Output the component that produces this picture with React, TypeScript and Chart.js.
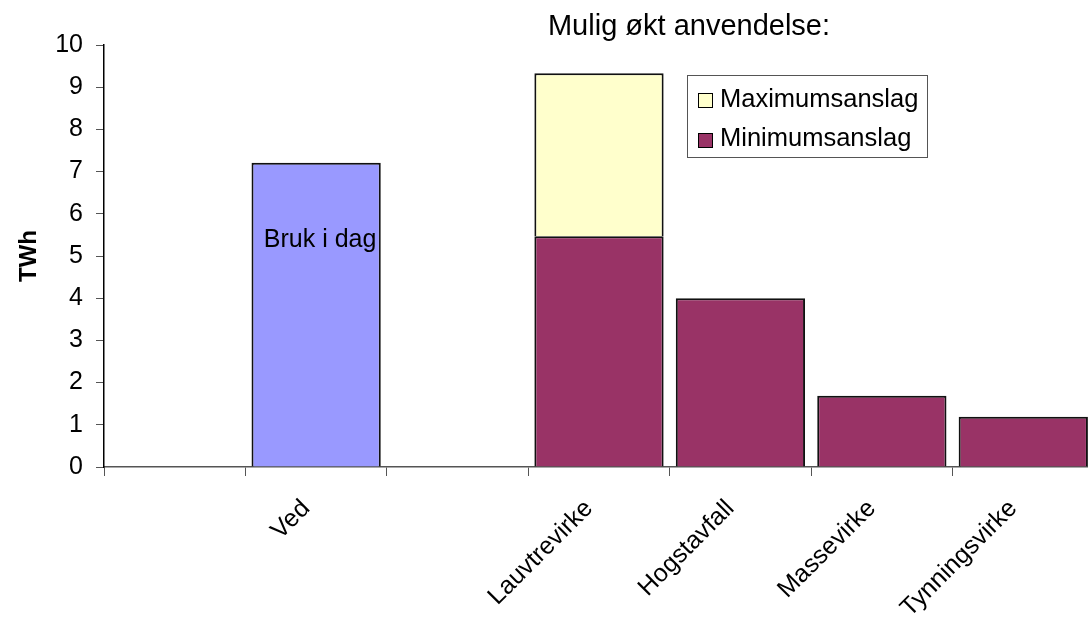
import { useEffect, useRef } from "react";
import { Chart, registerables } from "chart.js";

Chart.register(...registerables);

const FONT = 'Arial, "Liberation Sans", sans-serif';

const categories = ["", "Ved", "", "Lauvtrevirke", "Hogstavfall", "Massevirke", "Tynningsvirke"];
const brukIDag = [null, 7.21, null, null, null, null, null];
const minimumsanslag = [null, null, null, 5.47, 4.0, 1.69, 1.19];
const maksimumsTillegg = [null, null, null, 3.86, null, null, null];
const yMin = 0;
const yMax = 10;
const yStep = 1;

const chartTitle = "Mulig økt anvendelse:";
const barText = "Bruk i dag";
const yAxisTitle = "TWh";
const legendLabels = ["Maximumsanslag", "Minimumsanslag"];

const COLOR_VED = "#9999FF";
const COLOR_MIN = "#993366";
const COLOR_MAX = "#FFFFCC";

const overlayPlugin = {
  id: "overlay",
  afterDraw(chart: any) {
    const ctx = chart.ctx;
    ctx.save();
    // title
    ctx.fillStyle = "#000";
    ctx.font = `29px ${FONT}`;
    ctx.textAlign = "center";
    ctx.textBaseline = "alphabetic";
    ctx.fillText(chartTitle, 689, 35);

    // text inside Ved bar
    const vedBar = chart.getDatasetMeta(0).data[1];
    if (vedBar) {
      ctx.font = `25px ${FONT}`;
      ctx.textAlign = "center";
      ctx.fillText(barText, vedBar.x + 4, vedBar.y + 84);
    }

    // legend
    const bx = 687, by = 75, bw = 240, bh = 82;
    ctx.fillStyle = "#fff";
    ctx.fillRect(bx, by, bw, bh);
    ctx.strokeStyle = "#555";
    ctx.lineWidth = 1;
    ctx.strokeRect(bx + 0.5, by + 0.5, bw, bh);
    const items = [
      { label: legendLabels[0], color: chart.data.datasets[2].backgroundColor, cy: 100, base: 107 },
      { label: legendLabels[1], color: chart.data.datasets[1].backgroundColor, cy: 140, base: 146 },
    ];
    ctx.font = `25.5px ${FONT}`;
    ctx.textAlign = "left";
    for (const it of items) {
      ctx.fillStyle = it.color;
      ctx.fillRect(698, it.cy - 7, 14, 14);
      ctx.strokeStyle = "#000";
      ctx.lineWidth = 1;
      ctx.strokeRect(698.5, it.cy - 6.5, 14, 14);
      ctx.fillStyle = "#000";
      ctx.fillText(it.label, 720, it.base);
    }
    ctx.restore();
  },
};

export default function App() {
  const ref = useRef<HTMLCanvasElement | null>(null);

  useEffect(() => {
    if (!ref.current) return;
    const chart = new Chart(ref.current, {
      type: "bar",
      data: {
        labels: categories,
        datasets: [
          {
            label: barText,
            data: brukIDag,
            backgroundColor: COLOR_VED,
            borderColor: "#111",
            borderWidth: 2,
          },
          {
            label: legendLabels[1],
            data: minimumsanslag,
            backgroundColor: COLOR_MIN,
            borderColor: "#111",
            borderWidth: 2,
          },
          {
            label: legendLabels[0],
            data: maksimumsTillegg,
            backgroundColor: COLOR_MAX,
            borderColor: "#111",
            borderWidth: 2,
          },
        ],
      },
      options: {
        responsive: false,
        animation: false,
        devicePixelRatio: 1,
        datasets: { bar: { barPercentage: 0.914, categoryPercentage: 1.0 } },
        layout: { padding: { left: 8, top: 45, right: 6, bottom: 0 } },
        plugins: {
          legend: { display: false },
          tooltip: { enabled: false },
          title: { display: false },
        },
        scales: {
          x: {
            stacked: true,
            grid: {
              offset: true,
              drawOnChartArea: false,
              drawTicks: true,
              tickLength: 9,
              color: "#555",
            },
            border: { display: true, color: "#555", width: 1.5 },
            ticks: {
              autoSkip: false,
              minRotation: 45,
              maxRotation: 45,
              color: "#000",
              font: { family: FONT, size: 25 },
              padding: 18,
              labelOffset: -10,
            },
            afterFit(scale: any) {
              scale.height = 152;
              scale.paddingLeft = 0;
              scale.paddingRight = 0;
            },
          },
          y: {
            stacked: true,
            min: yMin,
            max: yMax,
            grid: {
              drawOnChartArea: false,
              drawTicks: true,
              tickLength: 8,
              color: "#555",
            },
            border: { display: true, color: "#000", width: 1.5 },
            ticks: {
              stepSize: yStep,
              color: "#000",
              font: { family: FONT, size: 25 },
              padding: 13,
            },
            title: {
              display: true,
              text: yAxisTitle,
              color: "#000",
              font: { family: FONT, size: 24, weight: "bold" },
              padding: { top: 7, bottom: 0 },
            },
            afterFit(scale: any) {
              scale.width = 96;
              scale.paddingTop = 0;
              scale.paddingBottom = 0;
            },
          },
        },
      },
      plugins: [overlayPlugin],
    });
    return () => chart.destroy();
  }, []);

  return (
    <div
      style={{
        position: "fixed",
        left: 0,
        top: 0,
        width: 1088,
        height: 619,
        overflow: "hidden",
        background: "#fff",
      }}
    >
      <canvas ref={ref} width={1100} height={619} style={{ display: "block" }} />
    </div>
  );
}
